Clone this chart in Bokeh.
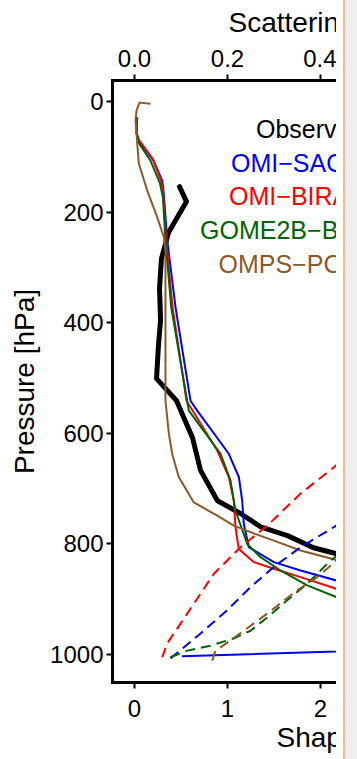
import math
from bokeh.plotting import figure
from bokeh.models import Range1d, LinearAxis, FixedTicker, Label, Div, NumeralTickFormatter, Title
from bokeh.layouts import row, column
from bokeh.embed import file_html
from bokeh.resources import INLINE

# ---------------- data (shape factor vs pressure [hPa]) ----------------
obs_x = [0.484, 0.559, 0.366, 0.290, 0.269, 0.280, 0.258, 0.237, 0.452, 0.624, 0.710, 0.892, 1.140, 1.355, 1.645, 1.925, 2.20]
obs_p = [154, 181, 237, 284, 338, 396, 440, 501, 541, 608, 667, 722, 745, 769, 785, 807, 819]

sao_x = [0.029, 0.022, 0.046, 0.204, 0.298, 0.312, 0.352, 0.441, 0.602, 0.674, 1.014, 1.122, 1.158, 1.175, 1.229, 1.319, 1.498, 1.785, 2.169, 2.8, 3.5, 4.0, 0.51]
sao_p = [28, 58, 71, 107, 143, 161, 251, 372, 541, 559, 637, 679, 722, 763, 806, 815, 833, 848, 866, 890, 940, 985, 1003]

bira_x = [0.029, 0.022, 0.054, 0.194, 0.285, 0.306, 0.341, 0.409, 0.559, 0.889, 1.014, 1.068, 1.086, 1.121, 1.283, 1.498, 1.785, 2.169, 2.6]
bira_p = [28, 58, 71, 103, 143, 161, 251, 372, 541, 631, 679, 722, 770, 809, 833, 845, 860, 881, 900]

gome_x = [0.022, 0.027, 0.043, 0.172, 0.274, 0.306, 0.333, 0.395, 0.584, 0.925, 1.032, 1.086, 1.212, 1.355, 1.570, 1.857, 2.169, 2.6]
gome_p = [28, 58, 74, 107, 148, 174, 251, 372, 559, 637, 685, 740, 800, 824, 848, 875, 896, 915]

omps_x = [0.172, 0.054, 0.022, 0.011, 0.022, 0.046, 0.137, 0.244, 0.315, 0.333, 0.333, 0.333, 0.369, 0.405, 0.476, 0.638, 0.889, 1.068, 1.283, 1.498, 1.785, 2.169, 2.6]
omps_p = [4, 2, 16, 34, 58, 112, 161, 209, 245, 269, 378, 541, 600, 637, 679, 725, 749, 767, 781, 794, 812, 829, 845]

# dashed profiles
sao_sw_x = [0.387, 0.710, 0.997, 1.247, 1.495, 1.785, 2.169, 2.6]
sao_sw_p = [1007, 962, 920, 878, 842, 806, 767, 730]

bira_sw_x = [0.298, 0.351, 0.567, 0.853, 1.140, 1.427, 1.785, 2.169, 2.6]
bira_sw_p = [1005, 980, 926, 854, 806, 767, 709, 658, 610]

gome_sw_x = [0.387, 0.567, 0.817, 1.065, 1.247, 1.427, 1.642, 1.857, 2.108, 2.6]
gome_sw_p = [1005, 993, 984, 971, 957, 933, 902, 872, 830, 770]

omps_sw_x = [0.835, 0.871, 0.925, 1.175, 1.427, 1.749, 1.965, 2.172, 2.6]
omps_sw_p = [1011, 993, 987, 957, 926, 884, 860, 830, 790]

legend_labels = ["Observation", "OMI\u2212SAO", "OMI\u2212BIRA", "GOME2B\u2212BIRA", "OMPS\u2212PCA"]
y_ticks = [0, 200, 400, 600, 800, 1000]
x_ticks = [0, 1, 2]
top_ticks = [0.0, 0.2, 0.4]
top_title = "Scattering weights"
bottom_title = "Shape factor"
left_title = "Pressure [hPa]"

# ---------------- styling ----------------
FONT = "Liberation Sans"
C_OBS = "#000000"
C_SAO = "#0000FF"
C_BIRA = "#FF0000"
C_GOME = "#006400"
C_OMPS = "#8B5A2B"

W = 336
H_TOP = 34
H_MAIN = 759 - H_TOP
X0, X1 = -0.2366, 2.172

# strip on top holding the upper axis title (same horizontal geometry as the main plot)
tf = figure(width=W, height=H_TOP, output_backend="svg", toolbar_location=None,
            x_range=Range1d(X0, X1), y_range=Range1d(H_TOP, 0),
            x_axis_location=None, y_axis_location=None,
            min_border_left=112, min_border_right=0, min_border_top=0, min_border_bottom=0)
tf.grid.visible = False
tf.outline_line_color = None
tf.border_fill_color = "white"
tf.add_layout(Label(x=1.011, y=22, text=top_title, text_font=FONT, text_font_size="28px",
                    text_color="black", text_align="left", text_baseline="alphabetic"))

p = figure(width=W, height=H_MAIN, output_backend="svg", toolbar_location=None,
           x_range=Range1d(X0, X1), y_range=Range1d(1050.6, -38.0),
           x_axis_location=None, y_axis_location=None,
           min_border_left=112, min_border_right=0, min_border_top=80 - H_TOP, min_border_bottom=77)
p.grid.visible = False
p.outline_line_color = None
p.background_fill_color = "white"
p.border_fill_color = "white"

p.extra_x_ranges = {"top": Range1d(X0 * 0.2, X1 * 0.2)}

def style_axis(ax):
    ax.axis_line_width = 3
    ax.axis_line_color = "black"
    ax.axis_line_cap = "square"
    ax.major_tick_line_width = 2
    ax.major_tick_out = 6
    ax.major_tick_in = 0
    ax.minor_tick_line_color = None
    ax.major_label_text_font = FONT
    ax.major_label_text_font_size = "24px"
    ax.major_label_text_color = "black"
    ax.axis_label_text_font = FONT
    ax.axis_label_text_font_size = "28px"
    ax.axis_label_text_font_style = "normal"
    ax.axis_label_text_color = "black"

left = LinearAxis(ticker=FixedTicker(ticks=y_ticks), axis_label=left_title)
style_axis(left)
left.major_label_standoff = 3
left.axis_label_standoff = 7
p.add_layout(left, "left")

bottom = LinearAxis(ticker=FixedTicker(ticks=x_ticks))
style_axis(bottom)
bottom.major_label_standoff = 11
p.add_layout(bottom, "below")

top = LinearAxis(x_range_name="top", ticker=FixedTicker(ticks=top_ticks),
                 formatter=NumeralTickFormatter(format="0.0"))
style_axis(top)
top.major_label_standoff = 8
p.add_layout(top, "above")

p.add_layout(Title(text=bottom_title, align="left", offset=164, standoff=0, text_color="black",
                   text_font=FONT, text_font_size="28px", text_font_style="normal"), "below")

# solid profiles
p.line(obs_x, obs_p, line_color=C_OBS, line_width=5, line_join="round", line_cap="round")
p.line(sao_x, sao_p, line_color=C_SAO, line_width=2, line_join="round")
p.line(bira_x, bira_p, line_color=C_BIRA, line_width=2, line_join="round")
p.line(gome_x, gome_p, line_color=C_GOME, line_width=2, line_join="round")
p.line(omps_x, omps_p, line_color=C_OMPS, line_width=2, line_join="round")

# dashed profiles
for xs, ps, c in [(sao_sw_x, sao_sw_p, C_SAO), (bira_sw_x, bira_sw_p, C_BIRA),
                  (gome_sw_x, gome_sw_p, C_GOME), (omps_sw_x, omps_sw_p, C_OMPS)]:
    p.line(xs, ps, line_color=c, line_width=2, line_dash="10 6")

# legend (text only, coloured)
leg_colors = [C_OBS, C_SAO, C_BIRA, C_GOME, C_OMPS]
leg_x = [1.306, 1.038, 1.017, 0.705, 0.903]
leg_y = [50, 111, 171, 232, 293]
for t, c, lx, ly in zip(legend_labels, leg_colors, leg_x, leg_y):
    p.add_layout(Label(x=lx, y=ly, text=t, text_color=c, text_font=FONT,
                       text_font_size="25px", text_align="left", text_baseline="alphabetic"))

strip = Div(width=21, height=759, margin=0, styles={
    "background": "linear-gradient(to right, #ffffff 0px, #ffffff 7px, #f3b9a0 7px, #f3b9a0 9px, #efefef 9px, #efefef 21px)"})

layout = row(column(tf, p), strip)
open("out.html", "w").write(file_html(layout, INLINE))
